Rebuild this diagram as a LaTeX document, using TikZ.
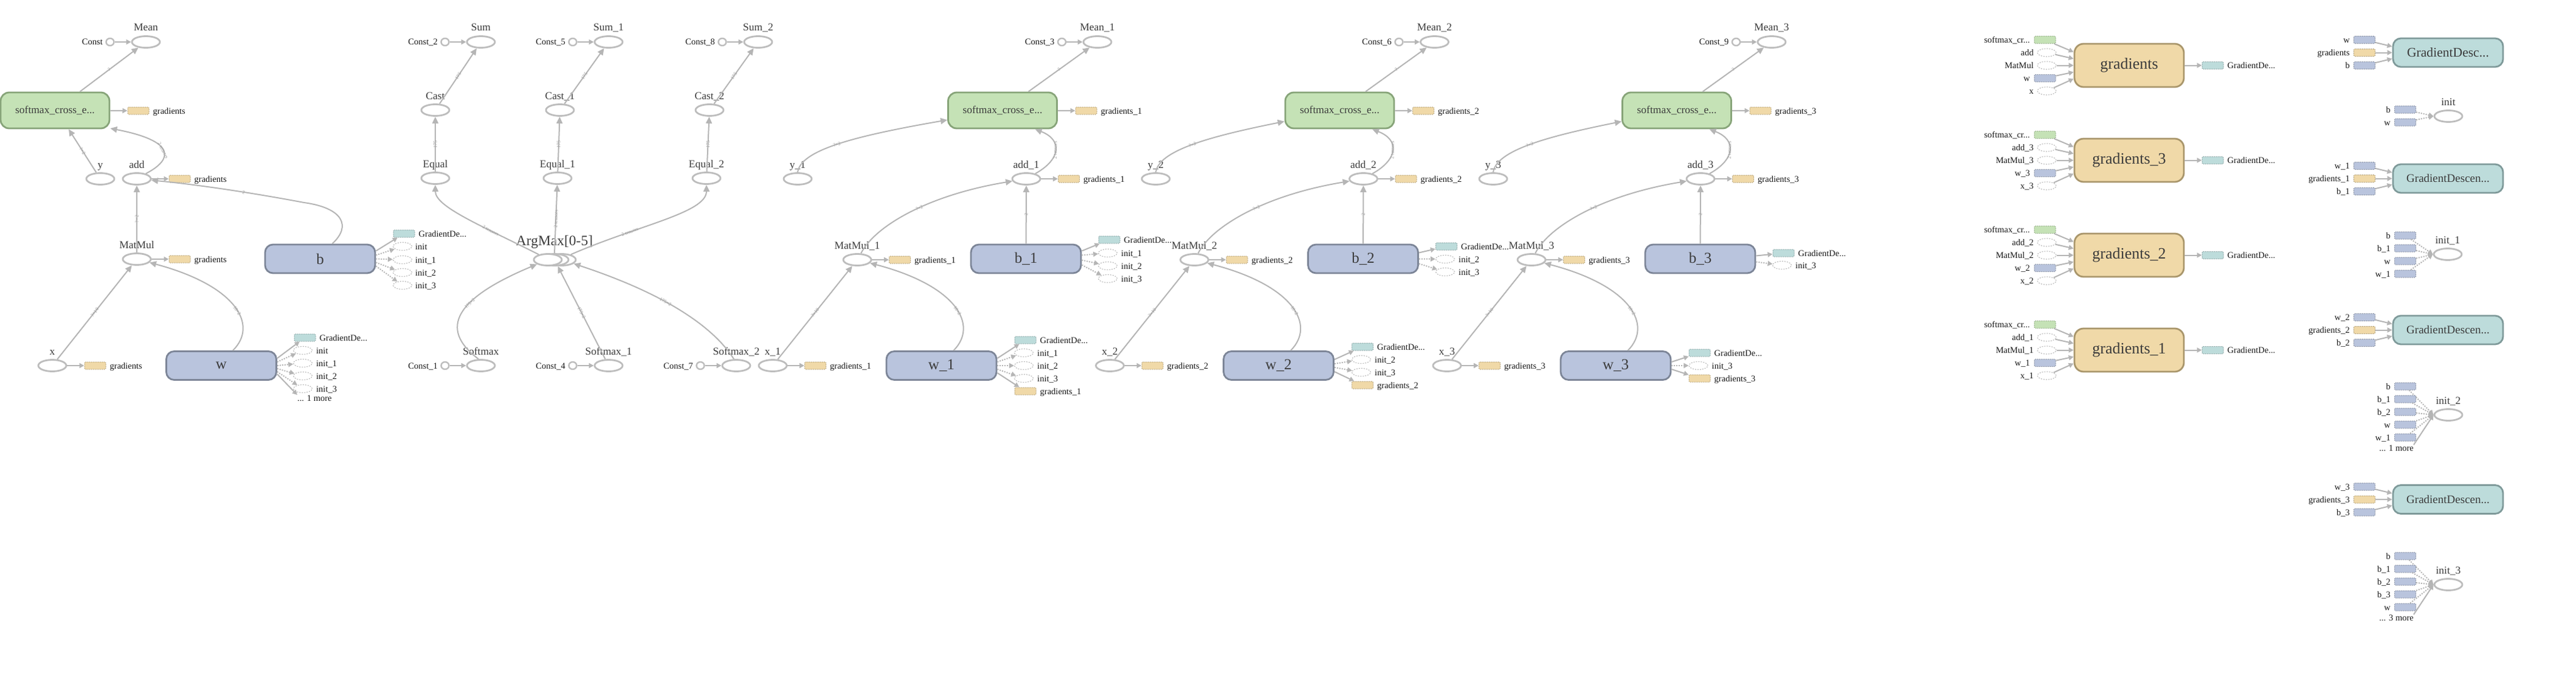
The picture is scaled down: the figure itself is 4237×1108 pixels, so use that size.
\documentclass[tikz,border=0pt]{standalone}
\usepackage{fontspec}
\setmainfont{Liberation Serif}
\usetikzlibrary{shapes.geometric,arrows.meta,calc}
\definecolor{edc}{HTML}{B5B5B5}
\definecolor{opc}{HTML}{BDBDBD}
\definecolor{grnf}{HTML}{C5E2B6}
\definecolor{grnd}{HTML}{87A479}
\definecolor{varf}{HTML}{B9C4DD}
\definecolor{vard}{HTML}{7C8597}
\definecolor{grdf}{HTML}{F0D9A8}
\definecolor{grdd}{HTML}{A9966B}
\definecolor{gdsf}{HTML}{BDDCDB}
\definecolor{gdsd}{HTML}{7F9A9A}
\definecolor{txa}{HTML}{3C3C3C}
\definecolor{txb}{HTML}{1A1A1A}
\definecolor{elc}{HTML}{999999}
\newcommand\fszA{\fontsize{17.5pt}{20pt}\selectfont}
\newcommand\fszB{\fontsize{14.5pt}{17pt}\selectfont}
\newcommand\fszE{\fontsize{8pt}{9pt}\selectfont}
\newcommand\fszV{\fontsize{25pt}{28pt}\selectfont}
\newcommand\fszG{\fontsize{26pt}{29pt}\selectfont}
\newcommand\fszD{\fontsize{21.6pt}{24pt}\selectfont}
\newcommand\fszDD{\fontsize{19pt}{22pt}\selectfont}
\newcommand\fszM{\fontsize{23.5pt}{26pt}\selectfont}
\tikzset{
 opn/.style={ellipse,draw=opc,line width=2.8pt,fill=white,minimum width=46pt,minimum height=19pt,inner sep=0pt},
 cst/.style={ellipse,draw=opc,line width=2.4pt,fill=white,minimum width=13pt,minimum height=12pt,inner sep=0pt},
 olbl/.style={font=\fszA,text=txa,inner sep=0pt},
 plbl/.style={font=\fszB,text=txb,inner sep=0pt},
 elbl/.style={font=\fszE,text=elc,inner sep=1pt,sloped},
 conn/.style={draw=edc,line width=2pt,-{Triangle[length=11pt,width=10pt]}},
 pedge/.style={draw=edc,line width=2pt,-{Triangle[length=8pt,width=8pt]}},
 dedge/.style={pedge,dash pattern=on 2pt off 2pt},
 smx/.style={rectangle,rounded corners=14pt,line width=2.8pt,fill=grnf,draw=grnd,minimum width=179pt,minimum height=59pt,inner sep=0pt,font=\fszA,text=txa},
 varb/.style={rectangle,rounded corners=13pt,line width=2.8pt,fill=varf,draw=vard,minimum width=181pt,minimum height=47pt,inner sep=0pt,font=\fszV,text=txa},
 grd/.style={rectangle,rounded corners=15pt,line width=2.8pt,fill=grdf,draw=grdd,minimum width=180pt,minimum height=71pt,inner sep=0pt,font=\fszG,text=txa},
 gds/.style={rectangle,rounded corners=13pt,line width=2.8pt,fill=gdsf,draw=gdsd,minimum width=181pt,minimum height=47pt,inner sep=0pt,text=txa},
 pb/.style={rectangle,rounded corners=2pt,minimum width=35pt,minimum height=12pt,inner sep=0pt,line width=1pt,dash pattern=on 1.5pt off 1.5pt},
 gport/.style={pb,fill=grdf,draw=grdd},
 dport/.style={pb,fill=gdsf,draw=gdsd},
 sport/.style={pb,fill=grnf,draw=grnd},
 vport/.style={pb,fill=varf,draw=vard},
 eport/.style={ellipse,draw=opc,line width=1.2pt,dash pattern=on 2pt off 2pt,minimum width=31pt,minimum height=13pt,inner sep=0pt},
}
\newcommand\rkop[4]{\node[opn] (#1) at (#2,#3) {};\node[olbl,anchor=base] (#1l) at (#2,#3-18) {#4};}
\newcommand\rkcst[5]{\node[cst] (#1) at (#2,#3) {};\node[plbl,anchor=base east] (#1l) at (#2-12,#3+5) {#4};\draw[pedge] (#1) -- (#5);}
\newcommand\rkport[6]{\node[#2] (#1) at (#3,#4) {};\node[plbl,anchor=base west] (#1l) at (#3+24,#4+5) {#5};\draw[pedge] (#6) -- (#1);}
\newcommand\rkfo[9]{\node[#3] (#4) at (#5,#6) {};\node[plbl,anchor=base west] (#4l) at (#5+#8,#6+5) {#7};\draw[#9] ($(#1.east)+(0,#2)$) -- (#4);}
\newcommand\rkin[6]{\node[#1] (#2) at (#3,#4) {};\node[plbl,anchor=base east] (#2l) at (#3-#6,#4+5) {#5};}
\newcommand\rkii[4]{\rkin{vport}{#1}{3956}{#2}{#3}{24}\draw[dedge] (#1) -- (#4.west);}
\newcommand\rktower[4]{%
\begin{scope}[shift={(#2,0)}]
\rkop{Mean#1}{1805}{69}{Mean\_#1}
\rkcst{Ct#1}{1746.5}{69}{Const\_#4}{Mean#1}
\node[smx] (S#1) at (1649,181.5) {softmax\_cross\_e...};
\rkport{Sg#1}{gport}{1786.5}{182}{gradients\_#1}{S#1}
\rkop{y#1}{#3}{294}{y\_#1}
\rkop{add#1}{1688}{294}{add\_#1}
\rkport{ag#1}{gport}{1758}{294}{gradients\_#1}{add#1}
\rkop{MatMul#1}{1410}{427}{MatMul\_#1}
\rkport{mg#1}{gport}{1480}{427}{gradients\_#1}{MatMul#1}
\node[varb] (b#1) at (1687.5,425.5) {b\_#1};
\rkop{x#1}{1271}{601}{x\_#1}
\rkport{xg#1}{gport}{1341}{601}{gradients\_#1}{x#1}
\node[varb] (w#1) at (1548.5,601) {w\_#1};
\draw[conn] (S#1.36) -- (Mean#1) node[elbl,pos=.5]{?};
\draw[conn] (y#1.north) .. controls (#3+5,248) and (#3+85,225) .. (S#1) node[elbl,pos=.5]{?×2};
\draw[conn] (add#1.30) .. controls (1745,262) and (1748,230) .. (S#1.-30) node[elbl,pos=.5]{2 tensors};
\draw[conn] (MatMul#1.60) .. controls (1440,370) and (1530,320) .. (add#1) node[elbl,pos=.55]{?×2};
\draw[conn] (b#1) -- (add#1) node[elbl,pos=.5]{2};
\draw[conn] (x#1) -- (MatMul#1) node[elbl,pos=.5]{?×10};
\draw[conn] ($(w#1.north)+(20,0)$) .. controls (1609.5,535) and (1574.5,470) .. (MatMul#1) node[elbl,pos=.45]{10×2};
\end{scope}}
\newcommand\rkgrad[4]{%
\node[grd] (G#1) at (3502,#2) {#3};
\rkin{sport}{Gi#1a}{3363.5}{#2-42}{softmax\_cr...}{24.5}
\rkin{eport}{Gi#1b}{3366.5}{#2-21}{add#4}{21.5}
\rkin{eport}{Gi#1c}{3366.5}{#2}{MatMul#4}{21.5}
\rkin{vport}{Gi#1d}{3363.5}{#2+21}{w#4}{24.5}
\rkin{eport}{Gi#1e}{3366.5}{#2+42}{x#4}{21.5}
\draw[pedge] (Gi#1a) -- ($(G#1.west)+(0,-22)$);
\draw[pedge] (Gi#1b) -- ($(G#1.west)+(0,-11)$);
\draw[pedge] (Gi#1c) -- (G#1);
\draw[pedge] (Gi#1d) -- ($(G#1.west)+(0,11)$);
\draw[pedge] (Gi#1e) -- ($(G#1.west)+(0,22)$);
\rkport{Go#1}{dport}{3639.5}{#2}{GradientDe...}{G#1}}
\newcommand\rkgd[5]{%
\node[gds,font=#5] (D#1) at (4026.5,#2) {#3};
\rkin{vport}{Di#1a}{3889}{#2-21}{w#4}{24}
\rkin{gport}{Di#1b}{3889}{#2}{gradients#4}{24}
\rkin{vport}{Di#1c}{3889}{#2+21}{b#4}{24}
\draw[pedge] (Di#1a) -- ($(D#1.west)+(0,-10)$);
\draw[pedge] (Di#1b) -- (D#1);
\draw[pedge] (Di#1c) -- ($(D#1.west)+(0,10)$);}
\begin{document}
\begin{tikzpicture}[x=1pt,y=-1pt]
\fill[white] (0,0) rectangle (4237,1108);
\useasboundingbox (0,0) rectangle (4237,1108);
% ---------------- tower 0
\rkop{Mean}{240}{69}{Mean}
\rkcst{C0}{181}{69}{Const}{Mean}
\node[smx] (S0) at (90.5,181.5) {softmax\_cross\_e...};
\rkport{S0g}{gport}{227.5}{182}{gradients}{S0}
\rkop{y0}{165}{294}{y}
\rkop{add0}{225}{294}{add}
\rkport{add0g}{gport}{295.5}{294}{gradients}{add0}
\rkop{MatMul0}{225}{426}{MatMul}
\rkport{mm0g}{gport}{295.5}{426}{gradients}{MatMul0}
\node[varb] (b0) at (526.5,425.5) {b};
\rkop{x0}{86}{601}{x}
\rkport{x0g}{gport}{156.5}{601}{gradients}{x0}
\node[varb] (w0) at (364,601) {w};
\draw[conn] (S0.37) -- (Mean) node[elbl,pos=.5]{?};
\draw[conn] (y0) -- (S0.-54) node[elbl,pos=.5]{?×2};
\draw[conn] (add0.30) .. controls (285,262) and (290,232) .. (S0.-18) node[elbl,pos=.5]{2 tensors};
\draw[conn] (MatMul0) -- (add0) node[elbl,pos=.5]{?×2};
\draw[conn] (x0) -- (MatMul0) node[elbl,pos=.5]{?×10};
\draw[conn] ($(w0.north)+(19,0)$) .. controls (425,535) and (390,470) .. (MatMul0) node[elbl,pos=.45]{10×2};
\draw[conn] ($(b0.north)+(20,0)$) .. controls (578,372) and (565,342) .. (500,333) .. controls (420,318) and (330,304) .. (add0) node[elbl,pos=.4]{2};
\rkfo{b0}{-13}{dport}{b0o1}{664.5}{384}{GradientDe...}{24}{pedge}
\rkfo{b0}{-6}{eport}{b0o2}{662}{405}{init}{21}{dedge}
\rkfo{b0}{0}{eport}{b0o3}{662}{427}{init\_1}{21}{dedge}
\rkfo{b0}{6}{eport}{b0o4}{662}{448}{init\_2}{21}{dedge}
\rkfo{b0}{12}{eport}{b0o5}{662}{469}{init\_3}{21}{dedge}
\rkfo{w0}{-12}{dport}{w0o1}{501.5}{555}{GradientDe...}{24}{pedge}
\rkfo{w0}{-6}{eport}{w0o2}{498}{576}{init}{22}{dedge}
\rkfo{w0}{0}{eport}{w0o3}{498}{597}{init\_1}{22}{dedge}
\rkfo{w0}{5}{eport}{w0o4}{498}{618}{init\_2}{22}{dedge}
\rkfo{w0}{10}{eport}{w0o5}{498}{639}{init\_3}{22}{dedge}
\node[plbl,anchor=base west] (w0m) at (489,659) {... 1 more};
\draw[pedge] ($(w0.east)+(0,14)$) -- (w0m.north west);
% ---------------- accuracy
\rkop{Sum}{791}{69}{Sum}
\rkcst{Ka2}{732}{69}{Const\_2}{Sum}
\rkop{Cast}{716}{181}{Cast}
\rkop{Equal}{716}{293}{Equal}
\rkop{Sum1}{1001}{69}{Sum\_1}
\rkcst{Ka5}{942}{69}{Const\_5}{Sum1}
\rkop{Cast1}{921}{181}{Cast\_1}
\rkop{Equal1}{917}{293}{Equal\_1}
\rkop{Sum2}{1247}{69}{Sum\_2}
\rkcst{Ka8}{1188}{69}{Const\_8}{Sum2}
\rkop{Cast2}{1167}{181}{Cast\_2}
\rkop{Equal2}{1162}{293}{Equal\_2}
\node[opn] (am3) at (924,427) {};
\node[opn] (am2) at (912,427) {};
\node[opn] (am1) at (901,427) {};
\node[olbl,anchor=base,font=\fszM] (aml) at (912,403) {ArgMax[0-5]};
\rkop{Softmax}{791}{601}{Softmax}
\rkcst{Ka1}{732}{601}{Const\_1}{Softmax}
\rkop{Softmax1}{1001}{601}{Softmax\_1}
\rkcst{Ka4}{942}{601}{Const\_4}{Softmax1}
\rkop{Softmax2}{1211}{601}{Softmax\_2}
\rkcst{Ka7}{1152}{601}{Const\_7}{Softmax2}
\draw[conn] (Cast) -- (Sum) node[elbl,pos=.5]{175};
\draw[conn] (Equal) -- (Cast) node[elbl,pos=.5]{175};
\draw[conn] (Cast1) -- (Sum1) node[elbl,pos=.5]{175};
\draw[conn] (Equal1) -- (Cast1) node[elbl,pos=.5]{175};
\draw[conn] (Cast2) -- (Sum2) node[elbl,pos=.5]{175};
\draw[conn] (Equal2) -- (Cast2) node[elbl,pos=.5]{175};
\draw[conn] (am1.150) .. controls (790,370) and (716,340) .. (Equal) node[elbl,pos=.3]{2 tensors};
\draw[conn] (am2.north) -- (Equal1) node[elbl,pos=.5]{2 tensors};
\draw[conn] (am3.30) .. controls (1050,370) and (1162,350) .. (Equal2) node[elbl,pos=.3]{2 tensors};
\draw[conn] (Softmax.110) .. controls (720,540) and (750,490) .. (am1) node[elbl,pos=.6]{175×2};
\draw[conn] (Softmax1) -- (am2) node[elbl,pos=.5]{175×2};
\draw[conn] (Softmax2.110) .. controls (1175,540) and (1100,485) .. (am3) node[elbl,pos=.6]{175×2};
% ---------------- towers 1..3
\rktower{1}{0}{1312}{3}
\rktower{2}{554.5}{1346.5}{6}
\rktower{3}{1109}{1347}{9}
\rkfo{b1}{-13}{dport}{b1o1}{1824.5}{394}{GradientDe...}{24}{pedge}
\rkfo{b1}{-6}{eport}{b1o2}{1822}{416}{init\_1}{22}{dedge}
\rkfo{b1}{2}{eport}{b1o3}{1822}{437}{init\_2}{22}{dedge}
\rkfo{b1}{10}{eport}{b1o4}{1822}{458}{init\_3}{22}{dedge}
\rkfo{b2}{-10}{dport}{b2o1}{2379}{405}{GradientDe...}{24}{pedge}
\rkfo{b2}{0}{eport}{b2o2}{2377}{426}{init\_2}{22}{dedge}
\rkfo{b2}{8}{eport}{b2o3}{2377}{447}{init\_3}{22}{dedge}
\rkfo{b3}{-5}{dport}{b3o1}{2933.5}{416}{GradientDe...}{24}{pedge}
\rkfo{b3}{5}{eport}{b3o2}{2931}{436}{init\_3}{22}{dedge}
\rkfo{w1}{-12}{dport}{w1o1}{1686.5}{559}{GradientDe...}{24}{pedge}
\rkfo{w1}{-6}{eport}{w1o2}{1684}{580}{init\_1}{22}{dedge}
\rkfo{w1}{0}{eport}{w1o3}{1684}{601}{init\_2}{22}{dedge}
\rkfo{w1}{6}{eport}{w1o4}{1684}{622}{init\_3}{22}{dedge}
\rkfo{w1}{12}{gport}{w1o5}{1686.5}{643}{gradients\_1}{24}{pedge}
\rkfo{w2}{-10}{dport}{w2o1}{2241}{570}{GradientDe...}{24}{pedge}
\rkfo{w2}{-3}{eport}{w2o2}{2239}{591}{init\_2}{22}{dedge}
\rkfo{w2}{3}{eport}{w2o3}{2239}{612}{init\_3}{22}{dedge}
\rkfo{w2}{10}{gport}{w2o4}{2241}{633}{gradients\_2}{24}{pedge}
\rkfo{w3}{-6}{dport}{w3o1}{2795.5}{580}{GradientDe...}{24}{pedge}
\rkfo{w3}{0}{eport}{w3o2}{2793.5}{601}{init\_3}{22}{dedge}
\rkfo{w3}{6}{gport}{w3o3}{2795.5}{622}{gradients\_3}{24}{pedge}
% ---------------- gradients column
\rkgrad{0}{107.5}{gradients}{}
\rkgrad{3}{263.5}{gradients\_3}{\_3}
\rkgrad{2}{419.5}{gradients\_2}{\_2}
\rkgrad{1}{575.5}{gradients\_1}{\_1}
% ---------------- gradient descent / init column
\rkgd{0}{86.5}{GradientDesc...}{}{\fszD}
\rkgd{1}{293.5}{GradientDescen...}{\_1}{\fszDD}
\rkgd{2}{542.5}{GradientDescen...}{\_2}{\fszDD}
\rkgd{3}{821}{GradientDescen...}{\_3}{\fszDD}
\rkop{I0}{4027}{191}{init}
\rkii{I0a}{180}{b}{I0}
\rkii{I0b}{201}{w}{I0}
\rkop{I1}{4026}{418}{init\_1}
\rkii{I1a}{387}{b}{I1}
\rkii{I1b}{408}{b\_1}{I1}
\rkii{I1c}{429}{w}{I1}
\rkii{I1d}{450}{w\_1}{I1}
\rkop{I2}{4027}{682}{init\_2}
\rkii{I2a}{635}{b}{I2}
\rkii{I2b}{656}{b\_1}{I2}
\rkii{I2c}{677}{b\_2}{I2}
\rkii{I2d}{698}{w}{I2}
\rkii{I2e}{719}{w\_1}{I2}
\node[plbl,anchor=base east] (I2m) at (3970,741) {... 1 more};
\draw[pedge] (I2m.north east) -- (I2.west);
\rkop{I3}{4027}{961}{init\_3}
\rkii{I3a}{914}{b}{I3}
\rkii{I3b}{935}{b\_1}{I3}
\rkii{I3c}{956}{b\_2}{I3}
\rkii{I3d}{977}{b\_3}{I3}
\rkii{I3e}{998}{w}{I3}
\node[plbl,anchor=base east] (I3m) at (3970,1020) {... 3 more};
\draw[pedge] (I3m.north east) -- (I3.west);
\end{tikzpicture}
\end{document}
